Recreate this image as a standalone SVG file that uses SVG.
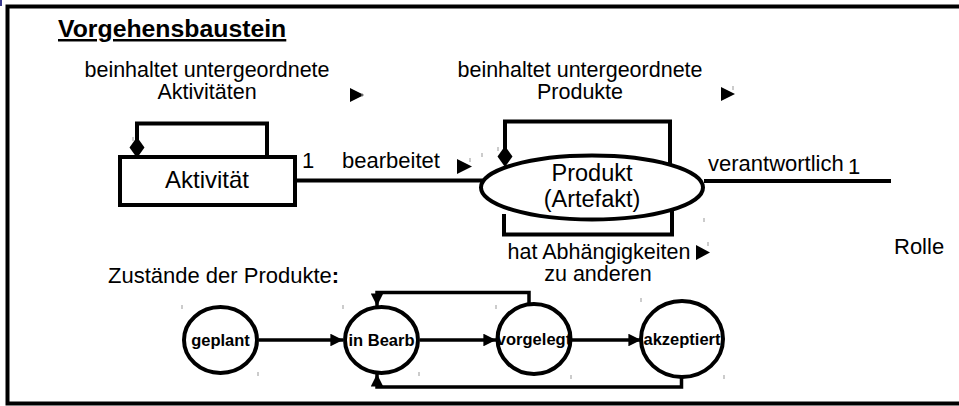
<svg xmlns="http://www.w3.org/2000/svg" width="959" height="406" viewBox="0 0 959 406">
  <style>
    text { font-family: "Liberation Sans", Arial, sans-serif; fill: #000; }
    .lbl { font-size: 22px; }
    .two { font-size: 21.5px; }
    .big { font-size: 24px; }
    .st { font-size: 16.5px; font-weight: bold; }
    .line { fill: none; stroke: #000; stroke-width: 4; }
    .thin { fill: none; stroke: #000; stroke-width: 3.5; }
    .shape { fill: #fff; stroke: #000; stroke-width: 4; }
    .tri { fill: #000; }
    .tick { stroke: #999; stroke-width: 1; }
  </style>
  <defs>
    <marker id="arrow" viewBox="0 0 10 10" refX="10" refY="5" markerWidth="4" markerHeight="3.6" markerUnits="strokeWidth" orient="auto">
      <path d="M0,0 L10,5 L0,10 Z" fill="#000"/>
    </marker>
  </defs>

  <rect width="959" height="406" fill="#fff"/>
  <rect x="0" y="0" width="2" height="6" fill="#3a3a8c"/>

  <!-- outer frame -->
  <path d="M962 6.5 H7.5 V403.5 H962" fill="none" stroke="#000" stroke-width="4"/>

  <!-- heading -->
  <text x="58" y="37" style="font-size:24.8px;font-weight:bold;text-decoration:underline">Vorgehensbaustein</text>

  <!-- association labels -->
  <g id="labels">
    <text class="two" x="207" y="77" text-anchor="middle">beinhaltet untergeordnete</text>
    <text class="two" x="207" y="99" text-anchor="middle">Aktivitäten</text>
    <polygon class="tri" points="350,88 364,95 350,102"/>

    <text class="two" x="580" y="77" text-anchor="middle">beinhaltet untergeordnete</text>
    <text class="two" x="580" y="99" text-anchor="middle">Produkte</text>
    <polygon class="tri" points="721,87 735,94 721,101"/>

    <text class="lbl" x="302" y="168">1</text>
    <text class="lbl" x="342" y="168">bearbeitet</text>
    <polygon class="tri" points="457,159 472,166.5 457,174"/>

    <text class="lbl" x="708" y="171">verantwortlich</text>
    <text class="lbl" x="848" y="174">1</text>

    <text class="two" x="599" y="259" text-anchor="middle">hat Abhängigkeiten</text>
    <text class="two" x="598" y="281" text-anchor="middle">zu anderen</text>
    <polygon class="tri" points="696,245 710,252.5 696,260"/>

    <text class="lbl" x="108" y="283">Zustände der Produkte<tspan font-weight="bold">:</tspan></text>
  </g>

  <!-- connectors -->
  <g id="connectors">
    <!-- self-aggregation of Aktivität -->
    <path class="line" d="M137 150 V123.5 H267 V157"/>
    <polygon class="tri" points="137,137 144.5,147.5 137,158 129.5,147.5"/>
    <!-- Aktivität to Produkt -->
    <line class="line" x1="295" y1="180.5" x2="484" y2="180.5"/>
    <!-- self-aggregation of Produkt -->
    <path class="line" d="M505 160 V121.5 H670 V165"/>
    <polygon class="tri" points="505,146 512.5,156.5 505,167 497.5,156.5"/>
    <!-- dependency bracket under Produkt -->
    <path class="line" d="M504 214 V234.5 H672 V208"/>
    <!-- Produkt to Rolle -->
    <line class="line" x1="704" y1="181" x2="891" y2="181"/>

    <!-- state transitions -->
    <line class="thin" x1="259" y1="340" x2="343" y2="340" marker-end="url(#arrow)"/>
    <line class="thin" x1="420" y1="340" x2="496" y2="340" marker-end="url(#arrow)"/>
    <line class="thin" x1="572" y1="340" x2="641" y2="340" marker-end="url(#arrow)"/>
    <path class="thin" d="M529 303 V292.5 H377 V306" marker-end="url(#arrow)"/>
    <path class="thin" d="M681.5 378 V387 H377 V374" marker-end="url(#arrow)"/>
  </g>

  <!-- class nodes -->
  <g id="aktivitaet">
    <rect class="shape" x="120" y="157" width="175" height="48"/>
    <text class="big" x="207" y="188" text-anchor="middle">Aktivität</text>
  </g>

  <g id="produkt">
    <ellipse class="shape" cx="592" cy="187.5" rx="111" ry="32"/>
    <text x="592" y="181" text-anchor="middle" font-size="23.5">Produkt</text>
    <text x="592" y="207" text-anchor="middle" font-size="23.5">(Artefakt)</text>
  </g>

  <g id="rolle">
    <text class="lbl" x="894" y="254">Rolle</text>
  </g>

  <!-- state nodes -->
  <g id="geplant">
    <ellipse class="shape" cx="220.5" cy="340" rx="36.5" ry="33"/>
    <text class="st" x="220.5" y="346" text-anchor="middle">geplant</text>
  </g>
  <g id="in-bearb">
    <ellipse class="shape" cx="381.5" cy="340" rx="36.5" ry="33"/>
    <text class="st" x="381.5" y="346" text-anchor="middle">in Bearb</text>
  </g>
  <g id="vorgelegt">
    <ellipse class="shape" cx="534" cy="339" rx="36.5" ry="35"/>
    <text class="st" x="534" y="345" text-anchor="middle">vorgelegt</text>
  </g>
  <g id="akzeptiert">
    <ellipse class="shape" cx="682" cy="339" rx="41" ry="38"/>
    <text class="st" x="682" y="345" text-anchor="middle">akzeptiert</text>
  </g>

  <!-- small handle marks -->
  <g id="handles">
    <line class="tick" x1="133" y1="137" x2="133" y2="141"/>
    <line class="tick" x1="362" y1="93" x2="362" y2="97"/>
    <line class="tick" x1="733" y1="86" x2="733" y2="90"/>
    <line class="tick" x1="470" y1="158" x2="470" y2="162"/>
    <line class="tick" x1="482" y1="153" x2="482" y2="157"/>
    <line class="tick" x1="498" y1="147" x2="498" y2="151"/>
    <line class="tick" x1="704" y1="218" x2="704" y2="222"/>
    <line class="tick" x1="708" y1="242" x2="708" y2="246"/>
    <line class="tick" x1="182" y1="305" x2="182" y2="309"/>
    <line class="tick" x1="258" y1="372" x2="258" y2="376"/>
    <line class="tick" x1="343" y1="305" x2="343" y2="309"/>
    <line class="tick" x1="419" y1="372" x2="419" y2="376"/>
    <line class="tick" x1="496" y1="305" x2="496" y2="309"/>
    <line class="tick" x1="571" y1="375" x2="571" y2="379"/>
    <line class="tick" x1="641" y1="298" x2="641" y2="302"/>
    <line class="tick" x1="724" y1="375" x2="724" y2="379"/>
  </g>
</svg>
